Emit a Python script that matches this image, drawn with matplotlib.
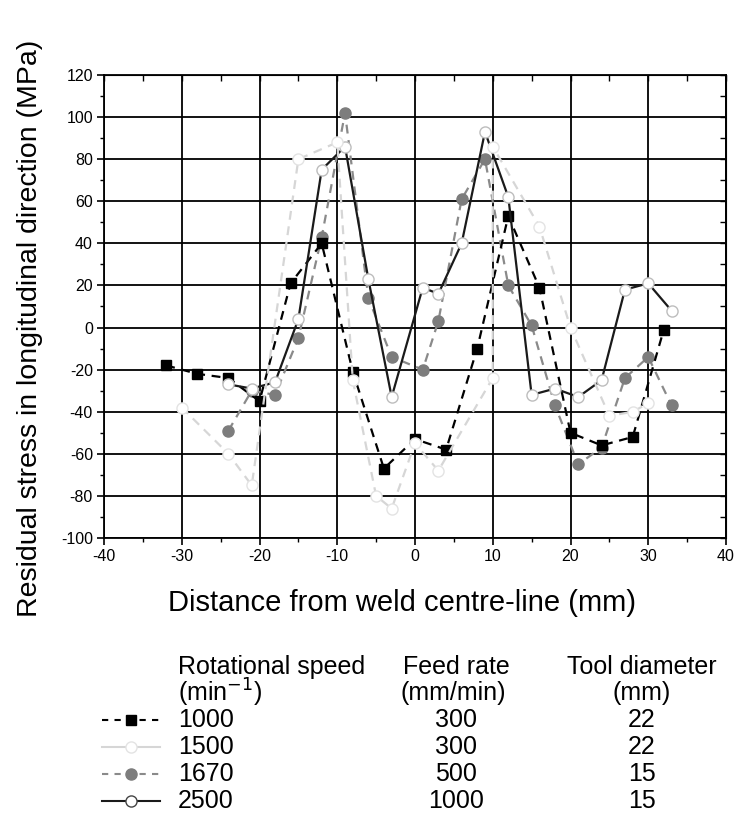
import matplotlib
matplotlib.use("Agg")
import matplotlib.pyplot as plt
from matplotlib.lines import Line2D
from matplotlib.ticker import MultipleLocator

plt.rcParams['font.family'] = ['Liberation Sans', 'DejaVu Sans']
plt.rcParams['axes.unicode_minus'] = False

# ---- data ----
x1000 = [-32, -28, -24, -20, -16, -12, -8, -4, 0, 4, 8, 12, 16, 20, 24, 28, 32]
y1000 = [-18, -22, -24, -35, 21, 40, -21, -67, -53, -58, -10, 53, 19, -50, -56, -52, -1]

x1500 = [-30, -24, -21, -15, -10, -8, -5, -3, 0, 3, 10, 10, 16, 20, 25, 28, 30]
y1500 = [-38, -60, -75, 80, 88, -25, -80, -86, -55, -68, -24, 86, 48, 0, -42, -40, -36]

x1670 = [-24, -21, -18, -15, -12, -9, -6, -3, 1, 3, 6, 9, 12, 15, 18, 21, 24, 27, 30, 33]
y1670 = [-49, -30, -32, -5, 43, 102, 14, -14, -20, 3, 61, 80, 20, 1, -37, -65, -57, -24, -14, -37]

x2500 = [-24, -21, -18, -15, -12, -9, -6, -3, 1, 3, 6, 9, 12, 15, 18, 21, 24, 27, 30, 33]
y2500 = [-27, -29, -26, 4, 75, 86, 23, -33, 19, 16, 40, 93, 62, -32, -29, -33, -25, 18, 21, 8]

speeds = ["1000", "1500", "1670", "2500"]
feeds = ["300", "300", "500", "1000"]
tools = ["22", "22", "15", "15"]

W, H = 738, 822
fig = plt.figure(figsize=(W / 100, H / 100), dpi=100)
ax = fig.add_axes([104 / W, 1 - 538 / H, (726 - 104) / W, (538 - 75) / H])

ax.set_xlim(-40, 40)
ax.set_ylim(-100, 120)
ax.xaxis.set_major_locator(MultipleLocator(10))
ax.xaxis.set_minor_locator(MultipleLocator(5))
ax.yaxis.set_major_locator(MultipleLocator(20))
ax.yaxis.set_minor_locator(MultipleLocator(10))
ax.grid(True, which='major', color='black', linewidth=1.3)
ax.set_axisbelow(True)
for s in ax.spines.values():
    s.set_linewidth(1.3)
ax.tick_params(which='major', direction='out', length=5, width=1.2, labelsize=11.5, pad=3)
ax.tick_params(which='minor', direction='out', length=3, width=1.0)

top = ax.secondary_xaxis('top')
top.xaxis.set_major_locator(MultipleLocator(10))
top.xaxis.set_minor_locator(MultipleLocator(5))
top.tick_params(which='both', direction='in', labeltop=False, length=4, width=1.0)
right = ax.secondary_yaxis('right')
right.yaxis.set_major_locator(MultipleLocator(20))
right.yaxis.set_minor_locator(MultipleLocator(10))
right.tick_params(which='both', direction='in', labelright=False, length=4, width=1.0)

ms = 8
ax.plot(x1670, y1670, color='#8a8a8a', linestyle=(0, (4, 3)), linewidth=1.6,
        marker='o', markersize=ms, markerfacecolor='#7d7d7d', markeredgecolor='#7d7d7d', zorder=3)
ax.plot(x1000, y1000, color='black', linestyle=(0, (4, 3)), linewidth=1.6,
        marker='s', markersize=ms - 1, markerfacecolor='black', markeredgecolor='black', zorder=4)
ax.plot(x2500, y2500, color='#1a1a1a', linestyle='-', linewidth=1.6,
        marker='o', markersize=ms, markerfacecolor='white', markeredgecolor='#bdbdbd', zorder=5)
ax.plot(x1500, y1500, color='#d6d6d6', linestyle=(0, (4, 3)), linewidth=1.6,
        marker='o', markersize=ms, markerfacecolor='white', markeredgecolor='#e3e3e3', zorder=6)


def fx(px):
    return px / W


def fy(py):
    return 1 - py / H


fig.text(fx(402), fy(603), 'Distance from weld centre-line (mm)', fontsize=21,
         ha='center', va='center')
fig.text(fx(30), fy(328), 'Residual stress in longitudinal direction (MPa)', fontsize=20.5,
         ha='center', va='center', rotation=90)

# ---- manual legend table ----
fs = 18
fig.text(fx(178), fy(667), 'Rotational speed', fontsize=fs, va='center', ha='left')
fig.text(fx(178), fy(693), '(min$^{-1}$)', fontsize=fs, va='center', ha='left')
fig.text(fx(456), fy(667), 'Feed rate', fontsize=fs, va='center', ha='center')
fig.text(fx(453), fy(693), '(mm/min)', fontsize=fs, va='center', ha='center')
fig.text(fx(642), fy(667), 'Tool diameter', fontsize=fs, va='center', ha='center')
fig.text(fx(642), fy(693), '(mm)', fontsize=fs, va='center', ha='center')

styles = [
    dict(color='black', linestyle=(0, (3, 3)), marker='s', mfc='black', mec='black', ms=7),
    dict(color='#d6d6d6', linestyle='-', marker='o', mfc='white', mec='#e3e3e3', ms=8),
    dict(color='#8a8a8a', linestyle=(0, (3, 3)), marker='o', mfc='#7d7d7d', mec='#7d7d7d', ms=8),
    dict(color='#1a1a1a', linestyle='-', marker='o', mfc='white', mec='#444444', ms=8),
]
rows = [720, 747, 774, 801]
for st, sp, fd, td, py in zip(styles, speeds, feeds, tools, rows):
    ln = Line2D([fx(102), fx(160)], [fy(py), fy(py)], transform=fig.transFigure,
                color=st['color'], linestyle=st['linestyle'], linewidth=1.5)
    fig.add_artist(ln)
    mk = Line2D([fx(131)], [fy(py)], transform=fig.transFigure, linestyle='none',
                marker=st['marker'], markerfacecolor=st['mfc'], markeredgecolor=st['mec'],
                markersize=st['ms'])
    fig.add_artist(mk)
    fig.text(fx(178), fy(py), sp, fontsize=fs, va='center', ha='left')
    fig.text(fx(456), fy(py), fd, fontsize=fs, va='center', ha='center')
    fig.text(fx(642), fy(py), td, fontsize=fs, va='center', ha='center')

fig.savefig('out.png', dpi=100, facecolor='white')
